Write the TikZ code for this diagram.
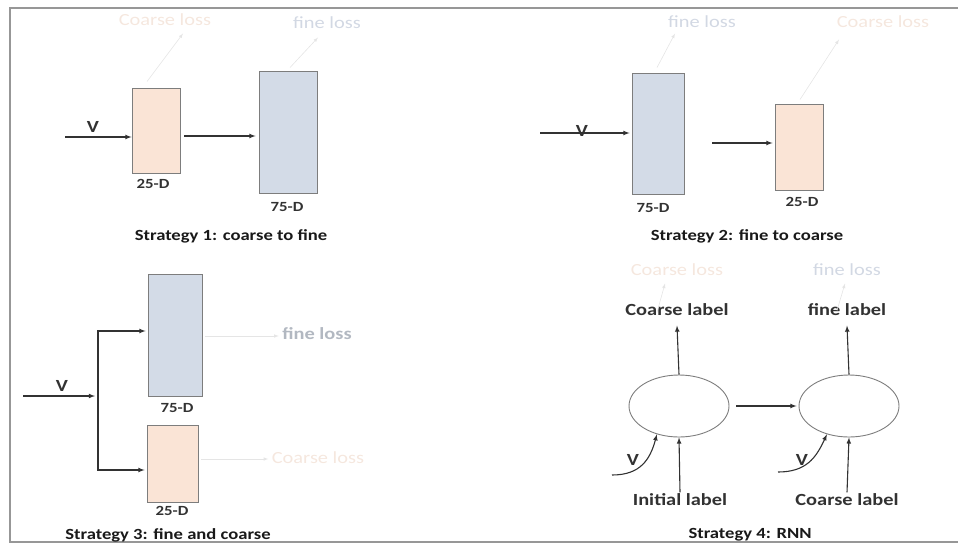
\documentclass[tikz,border=0pt]{standalone}
\usepackage{fontspec}
\setmainfont{Carlito}[FakeStretch=1.2]
\usetikzlibrary{shapes.geometric}
\definecolor{peche}{RGB}{250,228,214}
\definecolor{bleu}{RGB}{211,219,231}
\definecolor{bord}{RGB}{125,125,125}
\definecolor{pertepeche}{RGB}{245,231,222}
\definecolor{pertebleu}{RGB}{210,216,227}
\definecolor{trait}{RGB}{50,50,50}
\begin{document}
\begin{tikzpicture}[x=1pt,y=-1pt]
			\tikzstyle{fleche}=[->,>=latex,line width=1.1pt,draw=trait]
			\tikzstyle{lien}=[->,>=latex,line width=0.6pt,draw=black!10]
			\tikzstyle{boite}=[draw=bord,line width=0.9pt,inner sep=0pt]
			\tikzstyle{grossier}=[boite,fill=peche]
			\tikzstyle{fin}=[boite,fill=bleu]
			\tikzstyle{cellule}=[ellipse,draw=bord,line width=0.9pt,minimum width=100pt,minimum height=62pt]
			\tikzstyle{dim}=[font=\bfseries\fontsize{14}{16}\selectfont,text=trait]
			\tikzstyle{titre}=[font=\bfseries\fontsize{15.5}{18}\selectfont,text=black!90]
			\tikzstyle{etiquette}=[font=\bfseries\fontsize{17}{20}\selectfont,text=trait]
			\tikzstyle{perte}=[font=\fontsize{17}{20}\selectfont]
			\useasboundingbox (0,0) rectangle (958,544);
			\draw[draw=bord!80,line width=1.2pt] (10,8) rectangle (964,542);
			% strategie 1
			\coordinate (vA) at (65,137);
			\node[grossier,minimum width=48pt,minimum height=85pt] (cA) at (156,130.5) {};
			\node[fin,minimum width=58pt,minimum height=122pt] (fA) at (288,132) {};
			\node[etiquette] (VA) at (93,127) {V};
			\node[dim] (dcA) at (153,184) {25-D};
			\node[dim] (dfA) at (287,207) {75-D};
			\node[perte,text=pertepeche] (lcA) at (165,20) {Coarse loss};
			\node[perte,text=pertebleu] (lfA) at (327,23) {fine loss};
			\node[titre] (tA) at (231,236) {Strategy 1: coarse to fine};
			\draw[fleche] (vA)--(vA -| cA.west);
			\draw[fleche,shorten <=4pt,shorten >=3pt] ([yshift=-5.5pt]cA.east)--([yshift=-5.5pt]cA.east -| fA.west);
			\draw[lien] ([xshift=-9pt,yshift=6pt]cA.north)--([xshift=18pt,yshift=-4pt]lcA.south);
			\draw[lien] ([xshift=2pt,yshift=3pt]fA.north)--([xshift=-9pt,yshift=-5pt]lfA.south);
			% strategie 2
			\coordinate (vB) at (540,133);
			\coordinate (dB) at (712,143);
			\node[fin,minimum width=52pt,minimum height=121pt] (fB) at (658,133.5) {};
			\node[grossier,minimum width=48pt,minimum height=86pt] (cB) at (799,147) {};
			\node[etiquette] (VB) at (582,131) {V};
			\node[dim] (dfB) at (653,208) {75-D};
			\node[dim] (dcB) at (802,202) {25-D};
			\node[perte,text=pertebleu] (lfB) at (702,22) {fine loss};
			\node[perte,text=pertepeche] (lcB) at (883,22) {Coarse loss};
			\node[titre] (tB) at (747,236) {Strategy 2: fine to coarse};
			\draw[fleche,shorten >=2pt] (vB)--(vB -| fB.west);
			\draw[fleche,shorten >=2pt] (dB)--(dB -| cB.west);
			\draw[lien] ([xshift=-1pt,yshift=5pt]fB.north)--([xshift=-27pt,yshift=-2pt]lfB.south);
			\draw[lien] ([xshift=1pt,yshift=4pt]cB.north)--([xshift=-44pt,yshift=-8pt]lcB.south);
			% strategie 3
			\coordinate (vC) at (23,396);
			\coordinate (jC) at (98,396);
			\node[fin,minimum width=54pt,minimum height=122pt] (fC) at (175,335) {};
			\node[grossier,minimum width=51pt,minimum height=77pt] (cC) at (172.5,463.5) {};
			\node[etiquette] (VC) at (62,386) {V};
			\node[dim] (dfC) at (177,408) {75-D};
			\node[dim] (dcC) at (172,511) {25-D};
			\node[perte,text=pertebleu!85!black,font=\bfseries\fontsize{17}{20}\selectfont] (lfC) at (317,334) {fine loss};
			\node[perte,text=pertepeche] (lcC) at (318,458) {Coarse loss};
			\node[titre] (tC) at (168,535) {Strategy 3: fine and coarse};
			\draw[fleche,shorten >=3pt] (vC)--(jC);
			\draw[fleche,shorten >=2pt] (jC)|-([yshift=4pt]fC.west);
			\draw[fleche,shorten >=2pt] (jC)|-([yshift=-6.5pt]cC.west);
			\draw[lien,shorten <=3pt] ([yshift=-1pt]fC.east)--([yshift=-2pt]lfC.west);
			\draw[lien,shorten <=3pt] ([yshift=4.5pt]cC.east)--([yshift=-1pt]lcC.west);
			% strategie 4
			\node[cellule] (eA) at (679,406) {};
			\node[cellule] (eB) at (849,406) {};
			\coordinate (vD) at (612,475);
			\coordinate (vE) at (778,472);
			\node[etiquette] (hA) at (677,310) {Coarse label};
			\node[etiquette] (hB) at (847,310) {fine label};
			\node[etiquette] (bA) at (680,500) {Initial label};
			\node[etiquette] (bB) at (847,500) {Coarse label};
			\node[etiquette] (VD) at (633,460) {V};
			\node[etiquette] (VE) at (802,460) {V};
			\node[perte,text=pertepeche] (lhA) at (677,270) {Coarse loss};
			\node[perte,text=pertebleu] (lhB) at (847,270) {fine loss};
			\node[titre] (tD) at (750,535) {Strategy 4: RNN};
			\draw[fleche,shorten <=7pt,shorten >=2pt] (eA)--(eB);
			\draw[fleche] (eA.north)--([yshift=-6pt]hA.south);
			\draw[fleche] (eB.north)--([yshift=-6pt]hB.south);
			\draw[fleche] ([yshift=-2pt]bA.north)--(eA.south);
			\draw[fleche] ([yshift=-2pt]bB.north)--(eB.south);
			\draw[fleche] (vD) .. controls (640,475) and (650,460) .. (eA.232);
			\draw[fleche] (vE) .. controls (806,472) and (816,458) .. (eB.232);
			\draw[lien] ([xshift=-20pt,yshift=-12pt]hA.north)--([xshift=-12pt,yshift=-4pt]lhA.south);
			\draw[lien] ([xshift=-10pt,yshift=-10pt]hB.north)--([xshift=-2pt,yshift=-4pt]lhB.south);
		\end{tikzpicture}
\end{document}
